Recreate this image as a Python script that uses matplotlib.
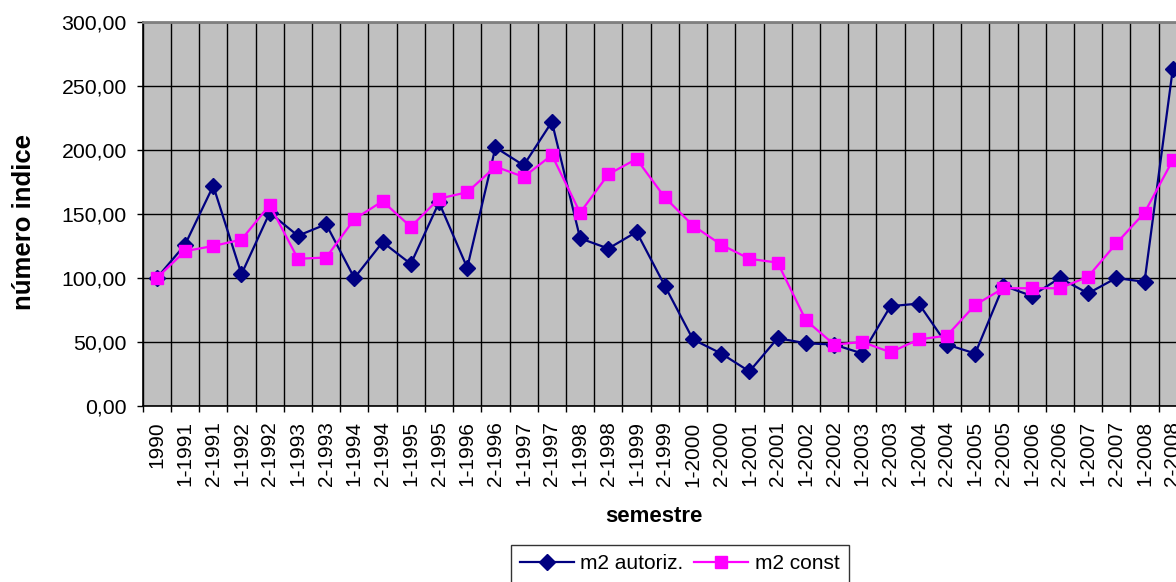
import matplotlib
matplotlib.use('Agg')
import matplotlib.pyplot as plt
from matplotlib.ticker import FixedLocator, FuncFormatter

plt.rcParams['font.family'] = ['Liberation Sans', 'DejaVu Sans']

# semestres
semestres = ['1990']
for yr in range(1991, 2009):
    semestres += [f'1-{yr}', f'2-{yr}']

m2_autoriz = [100, 126, 172, 103, 151, 133, 142, 100, 128, 111, 159, 108,
              202, 188, 222, 131, 123, 136, 94, 52, 41, 27, 53, 49,
              48, 41, 78, 80, 48, 41, 94, 86, 100, 88, 100, 97, 263]
m2_const = [100, 121, 125, 130, 157, 115, 116, 146, 160, 140, 162, 167,
            187, 179, 196, 151, 181, 193, 163, 141, 126, 115, 112, 67,
            48, 50, 42, 52, 55, 79, 92, 92, 92, 101, 127, 151, 192]

W, H = 1176, 582
fig = plt.figure(figsize=(W / 100, H / 100), dpi=100)
# el área de trazado sobresale por la derecha, como en el original
ax = fig.add_axes([142.7 / W, 1 - 406 / H, 37 * 28.22 / W, 384 / H])
ax.set_facecolor('#C0C0C0')

x = list(range(len(semestres)))
ax.plot(x, m2_autoriz, color='#000080', lw=1.6, marker='D', ms=8.5,
        label='m2 autoriz.', zorder=3)
ax.plot(x, m2_const, color='#FF00FF', lw=1.6, marker='s', ms=9,
        label='m2 const', zorder=4)

ax.set_xlim(-0.5, len(semestres) - 0.5)
ax.set_ylim(0, 300)
ax.set_yticks(range(0, 301, 50))
ax.yaxis.set_major_formatter(FuncFormatter(lambda v, p: f'{v:.2f}'.replace('.', ',')))
ax.set_xticks(x)
ax.set_xticklabels(semestres, rotation=90, va='top', ha='center')
ax.xaxis.set_minor_locator(FixedLocator([i - 0.5 for i in range(len(semestres) + 1)]))

ax.tick_params(axis='x', which='major', length=0, pad=11, labelsize=15)
ax.tick_params(axis='x', which='minor', length=4.5, width=1, color='black')
ax.tick_params(axis='y', length=4.5, width=1, pad=7, labelsize=15.3)

ax.grid(True, axis='y', which='major', color='black', lw=1)
ax.grid(True, axis='x', which='minor', color='black', lw=1)
ax.set_axisbelow(True)

for side in ['left', 'bottom']:
    ax.spines[side].set_color('black')
    ax.spines[side].set_linewidth(1.2)
for side in ['top', 'right']:
    ax.spines[side].set_color('#808080')
    ax.spines[side].set_linewidth(2)

fig.text(24 / W, 1 - 222 / H, 'número indice', rotation=90, ha='center',
         va='center', fontsize=18.5, fontweight='bold')
fig.text(654 / W, 1 - 516 / H, 'semestre', ha='center', va='center',
         fontsize=16, fontweight='bold')

leg = fig.legend(loc='upper left', bbox_to_anchor=(510.7 / W, 1 - 545 / H),
                 ncol=2, fontsize=15, frameon=True, fancybox=False,
                 edgecolor='black', borderaxespad=0, handlelength=2.6,
                 columnspacing=0.5, handletextpad=0.3, borderpad=0.45)
leg.get_frame().set_linewidth(1)

fig.savefig('out.png', dpi=100)
